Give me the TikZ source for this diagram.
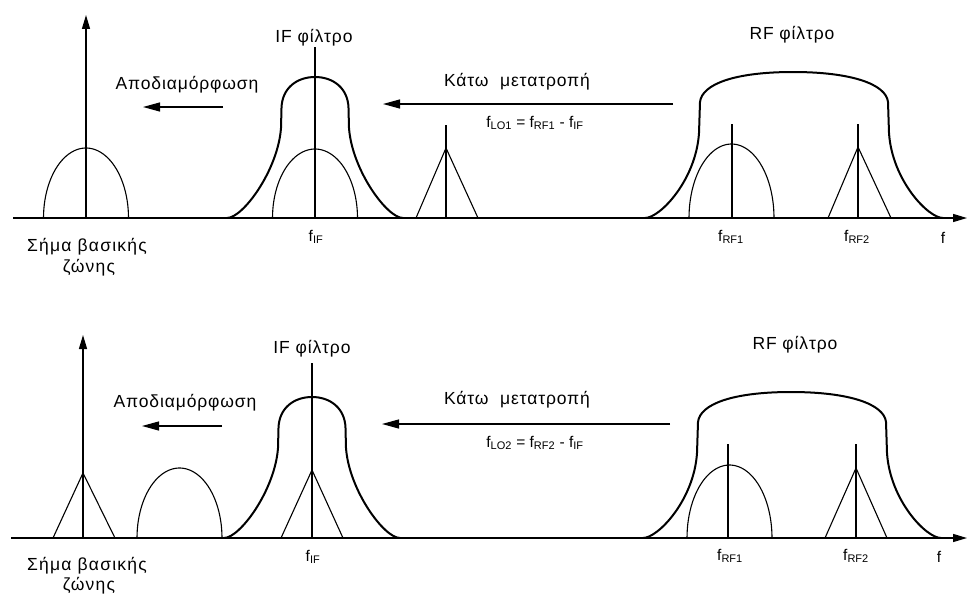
\documentclass[tikz,border=0pt]{standalone}
\usepackage{fontspec}
\setmainfont{Liberation Sans}
\usetikzlibrary{arrows.meta}
\tikzset{
  axisline/.style={line width=1.3pt, -{Triangle[length=14pt,width=8pt]}},
  convarrow/.style={line width=1.2pt, -{Triangle[length=17pt,width=9pt]}},
  filt/.style={line width=2pt, line join=round},
  thin/.style={line width=1.1pt, line join=round},
  lbl/.style={inner sep=0pt, font=\fontsize{17.5}{20}\selectfont\addfontfeatures{LetterSpace=5}},
  wide/.style={inner sep=0pt, font=\fontsize{17.5}{20}\selectfont\addfontfeatures{LetterSpace=7}},
  small/.style={inner sep=0pt, font=\fontsize{15.5}{17}\selectfont},
}
\newcommand{\sub}[1]{\textsubscript{\fontsize{11}{11}\selectfont #1}}
\newcommand{\IFpath}{(227,218) .. controls (243,218) and (278,170) .. (281,128)
  -- (281.5,108) .. controls (282,88) and (297,77) .. (315,77)
  .. controls (333,77) and (348,88) .. (348.5,108)
  -- (349,128) .. controls (352,170) and (387,218) .. (403,218)}
\newcommand{\RFpath}{(645,218) .. controls (660,218) and (696,180) .. (699,133)
  -- (700,102) .. controls (702,84) and (735,72) .. (793,72)
  .. controls (851,72) and (886,84) .. (888,102)
  -- (889,133) .. controls (892,180) and (928,218) .. (943,218)}
\begin{document}
\begin{tikzpicture}[x=1pt,y=-1pt]
\useasboundingbox (0,0) rectangle (968,594);
\fill[white] (0,0) rectangle (968,594);

% ===================== TOP PANEL =====================
\coordinate (t0) at (13,218);
\coordinate (t1) at (967,218);
\draw[axisline] (t0) -- (t1);
\coordinate (tyb) at (86,218);
\coordinate (tyt) at (86,15);
\draw[axisline] (tyb) -- (tyt);
% baseband arch
\draw[thin] plot[domain=0:180, samples=50] ({86+42.5*cos(\x)}, {218-70*sin(\x)});
% demodulation arrow
\coordinate (td1) at (223,107);
\coordinate (td2) at (143,107);
\draw[convarrow] (td1) -- (td2);
\node[lbl] (tdemod) at (187,85) {Αποδιαμόρφωση};
% IF filter
\draw[filt] \IFpath;
\coordinate (tifb) at (315,218);
\coordinate (tift) at (315,47);
\draw[thin] (tifb) -- (tift);
\draw[thin] plot[domain=0:180, samples=50] ({315+42.5*cos(\x)}, {218-69*sin(\x)});
\node[lbl] (tiflbl) at (314,38) {IF φίλτρο};
\node[small] (tfif) at (316,237) {f\sub{IF}};
% LO
\coordinate (tlob) at (446,218);
\coordinate (tlot) at (446,125);
\draw[thin] (tlob) -- (tlot);
\draw[thin] (416,218) -- (446,148) -- (478,218);
% down conversion
\coordinate (tc1) at (673,104);
\coordinate (tc2) at (383,104);
\draw[convarrow] (tc1) -- (tc2);
\node[lbl] (tdown) at (517,82) {Κάτω\ \ μετατροπή};
\node[small] (teq) at (535,123) {f\sub{LO1} = f\sub{RF1} - f\sub{IF}};
% RF filter
\draw[filt] \RFpath;
\node[lbl] (trflbl) at (792,35) {RF φίλτρο};
\coordinate (tr1b) at (732,218);
\coordinate (tr1t) at (732,124);
\draw[thin] (tr1b) -- (tr1t);
\draw[thin] plot[domain=0:180, samples=50] ({731.5+42.5*cos(\x)}, {218-74*sin(\x)});
\coordinate (tr2b) at (858,218);
\coordinate (tr2t) at (858,124);
\draw[thin] (tr2b) -- (tr2t);
\draw[thin] (828,218) -- (858,147) -- (891,218);
\node[small] (tfrf1) at (731,237) {f\sub{RF1}};
\node[small] (tfrf2) at (857,237) {f\sub{RF2}};
\node[small] (tf) at (943,238) {f};
\node[wide] (tbb1) at (87,247) {Σήμα βασικής};
\node[wide] (tbb2) at (89,268) {ζώνης};

% ===================== BOTTOM PANEL =====================
\coordinate (b0) at (11,538);
\coordinate (b1) at (967,538);
\draw[axisline] (b0) -- (b1);
\coordinate (byb) at (83,538);
\coordinate (byt) at (83,335);
\draw[axisline] (byb) -- (byt);
\draw[thin] (53,538) -- (83,473) -- (115,538);
\draw[thin] plot[domain=0:180, samples=50] ({179.5+42.5*cos(\x)}, {538-70*sin(\x)});
\coordinate (bd1) at (222,426);
\coordinate (bd2) at (142,426);
\draw[convarrow] (bd1) -- (bd2);
\node[lbl] (bdemod) at (185,403) {Αποδιαμόρφωση};
% IF filter
\begin{scope}[shift={(-3,320)}]
\draw[filt] \IFpath;
\end{scope}
\coordinate (bifb) at (312,538);
\coordinate (bift) at (312,363);
\draw[thin] (bifb) -- (bift);
\draw[thin] (281,538) -- (312,470) -- (343,538);
\node[lbl] (biflbl) at (312,349) {IF φίλτρο};
\node[small] (bfif) at (313,557) {f\sub{IF}};
% down conversion
\coordinate (bc1) at (670,424);
\coordinate (bc2) at (382,424);
\draw[convarrow] (bc1) -- (bc2);
\node[lbl] (bdown) at (517,400) {Κάτω\ \ μετατροπή};
\node[small] (beq) at (535,443) {f\sub{LO2} = f\sub{RF2} - f\sub{IF}};
% RF filter
\begin{scope}[shift={(-2,320)}]
\draw[filt] \RFpath;
\end{scope}
\node[lbl] (brflbl) at (795,345) {RF φίλτρο};
\coordinate (br1b) at (728,538);
\coordinate (br1t) at (728,444);
\draw[thin] (br1b) -- (br1t);
\draw[thin] plot[domain=0:180, samples=50] ({729.5+42.5*cos(\x)}, {538-73*sin(\x)});
\coordinate (br2b) at (856,538);
\coordinate (br2t) at (856,444);
\draw[thin] (br2b) -- (br2t);
\draw[thin] (825,538) -- (856,468) -- (887,538);
\node[small] (bfrf1) at (730,556) {f\sub{RF1}};
\node[small] (bfrf2) at (856,556) {f\sub{RF2}};
\node[small] (bf) at (939,557) {f};
\node[wide] (bbb1) at (87,566) {Σήμα βασικής};
\node[wide] (bbb2) at (89,586) {ζώνης};
\end{tikzpicture}
\end{document}
